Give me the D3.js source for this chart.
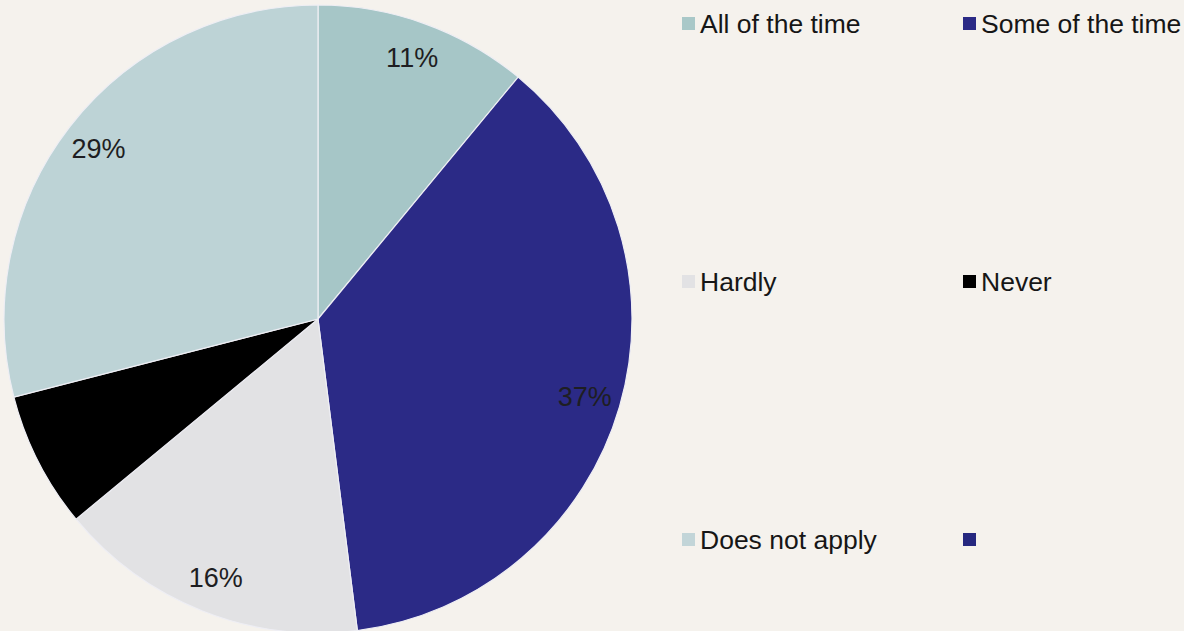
<!DOCTYPE html>
<html>
<head>
<meta charset="utf-8">
<script src="https://cdn.jsdelivr.net/npm/d3@7"></script>
<style>
  html, body { margin: 0; padding: 0; background: #f5f2ed; }
  svg { display: block; }
  text { font-family: "Liberation Sans", Arial, sans-serif; }
</style>
</head>
<body>
<svg id="chart" width="1184" height="631"></svg>
<script>
// Survey responses (percent of respondents)
const categories = ["All of the time", "Some of the time", "Hardly", "Never", "Does not apply"];
const values = [11, 37, 16, 7, 29];
const sliceColors = ["#a6c6c7", "#2b2a86", "#e2e2e4", "#000000", "#bdd3d6"];
// Slices whose percentage is printed on the pie
const labelled = [true, true, true, false, true];

// Legend entries (the last one carries no text)
const legendLabels = ["All of the time", "Some of the time", "Hardly", "Never", "Does not apply", ""];
const legendColors = ["#a9c8c8", "#2b2a86", "#e2e2e4", "#000000", "#c2d5d8", "#26287f"];

const svg = d3.select("#chart");
svg.append("rect").attr("width", 1184).attr("height", 631).attr("fill", "#f5f2ed");

const cx = 318, cy = 319, R = 314;
const pie = d3.pie().sort(null).value(d => d.value);
const arcs = pie(categories.map((c, i) => ({ name: c, value: values[i], color: sliceColors[i], show: labelled[i] })));
const arc = d3.arc().innerRadius(0).outerRadius(R);
const labelArc = d3.arc().innerRadius(R * 0.885).outerRadius(R * 0.885);

const g = svg.append("g").attr("transform", `translate(${cx},${cy})`);
g.selectAll("path.slice")
  .data(arcs)
  .join("path")
  .attr("class", "slice")
  .attr("d", arc)
  .attr("fill", d => d.data.color)
  .attr("stroke", "#eeeef4")
  .attr("stroke-width", 1.2);

g.selectAll("text.pct")
  .data(arcs.filter(d => d.data.show))
  .join("text")
  .attr("class", "pct")
  .attr("transform", d => `translate(${labelArc.centroid(d)})`)
  .attr("text-anchor", "middle")
  .attr("dy", "0.36em")
  .attr("font-size", 27)
  .attr("fill", "#1e1e22")
  .text(d => d.data.value + "%");

// Legend: two columns, three rows
const colX = [682, 963];
const rowY = [24, 282, 540];
const legend = svg.append("g");
legendLabels.forEach((lab, i) => {
  const x = colX[i % 2], y = rowY[Math.floor(i / 2)];
  const item = legend.append("g").attr("transform", `translate(${x},${y})`);
  item.append("rect").attr("x", 0).attr("y", -7).attr("width", 13).attr("height", 13).attr("fill", legendColors[i]);
  item.append("text").attr("x", 18).attr("y", 0).attr("dy", "0.35em")
    .attr("font-size", 26.5).attr("fill", "#161616").text(lab);
});
</script>
</body>
</html>
